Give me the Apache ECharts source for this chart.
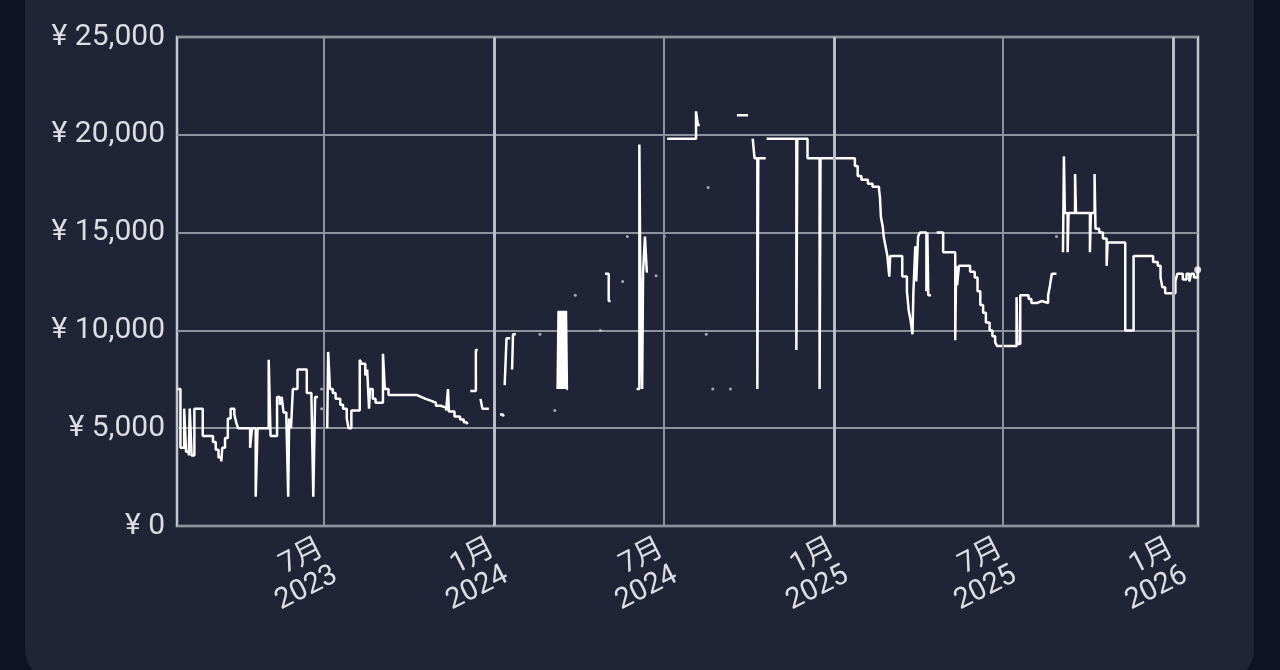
<!DOCTYPE html>
<html><head><meta charset="utf-8">
<script src="https://cdn.jsdelivr.net/npm/echarts@6/dist/echarts.min.js"></script>
<style>
html,body{margin:0;padding:0;background:#0e1223;width:1280px;height:670px;overflow:hidden}
#panel{position:absolute;left:25px;top:-40px;width:1229px;height:720px;border-radius:30px;background:#1f2536}
#chart{position:absolute;left:0;top:0;width:1280px;height:670px}
</style></head><body>
<div id="panel"></div><div id="chart"></div>
<script>
const dates = [
 '2023-01-25','2023-01-28','2023-02-01','2023-02-03','2023-02-06','2023-02-07','2023-02-09','2023-02-12',
 '2023-02-21','2023-03-04','2023-03-07','2023-03-10','2023-03-13','2023-03-14','2023-03-17','2023-03-20',
 '2023-03-23','2023-03-27','2023-03-29','2023-03-31','2023-04-13','2023-04-15','2023-04-19','2023-04-21',
 '2023-05-03','2023-05-05','2023-05-12','2023-05-15','2023-05-17','2023-05-19','2023-05-22','2023-05-24',
 '2023-05-25','2023-05-27','2023-05-29','2023-06-03','2023-06-13','2023-06-18','2023-06-20','2023-06-22',
 '2023-06-24','2023-06-25',
 '2023-07-05','2023-07-06','2023-07-08','2023-07-11','2023-07-14','2023-07-19','2023-07-22','2023-07-26',
 '2023-07-28','2023-07-31','2023-08-09','2023-08-11','2023-08-15','2023-08-17','2023-08-19','2023-08-20',
 '2023-08-23','2023-08-26','2023-09-03','2023-09-05','2023-09-09','2023-10-09','2023-10-14','2023-10-19',
 '2023-10-25','2023-10-30','2023-11-04','2023-11-10','2023-11-12','2023-11-13','2023-11-19','2023-11-25',
 '2023-11-29','2023-12-02','2023-12-03',
 '2023-12-06','2023-12-12','2023-12-13','2023-12-14','2023-12-17','2023-12-19','2023-12-25','2023-12-26',
 '2024-01-07','2024-01-10','2024-01-11','2024-01-12','2024-01-14','2024-01-17','2024-01-18','2024-01-20',
 '2024-01-21','2024-01-23','2024-01-24',
 '2024-03-09','2024-03-10','2024-03-11','2024-03-12','2024-03-13','2024-03-14','2024-03-15','2024-03-16',
 '2024-03-17','2024-03-18','2024-03-19','2024-03-20',
 '2024-04-29','2024-05-03','2024-05-04','2024-05-05',
 '2024-06-02','2024-06-05','2024-06-06','2024-06-08','2024-06-09','2024-06-11','2024-06-13','2024-06-14',
 '2024-07-05','2024-08-05','2024-08-07','2024-08-08','2024-08-09','2024-09-18','2024-09-29','2024-09-30',
 '2024-10-05','2024-10-07','2024-10-10','2024-10-11','2024-10-18','2024-10-19','2024-10-20','2024-11-21',
 '2024-11-22','2024-12-03','2024-12-16','2024-12-17','2025-01-23','2025-01-26','2025-01-30','2025-02-06',
 '2025-02-11','2025-02-18','2025-02-19','2025-02-20','2025-02-22','2025-02-23','2025-02-25','2025-02-27',
 '2025-03-01','2025-03-02','2025-03-15','2025-03-20','2025-03-22','2025-03-24','2025-03-26','2025-03-27',
 '2025-03-29','2025-03-30','2025-04-01','2025-04-03','2025-04-10','2025-04-11','2025-04-12','2025-04-14',
 '2025-04-15','2025-04-21','2025-04-28','2025-05-11','2025-05-12','2025-05-13','2025-05-15','2025-05-27',
 '2025-06-01','2025-06-04','2025-06-07','2025-06-10','2025-06-13','2025-06-17','2025-06-20','2025-06-23',
 '2025-06-25','2025-07-16','2025-07-17','2025-07-20','2025-07-29','2025-08-01','2025-08-07','2025-08-12',
 '2025-08-19','2025-08-21','2025-08-23','2025-08-27','2025-08-28',
 '2025-09-04','2025-09-05','2025-09-06','2025-09-09','2025-09-10','2025-09-17','2025-09-18','2025-10-03',
 '2025-10-04','2025-10-08','2025-10-09','2025-10-13','2025-10-17','2025-10-21','2025-10-22','2025-11-10',
 '2025-11-19','2025-12-10','2025-12-15','2025-12-18','2025-12-20','2025-12-23','2026-01-03','2026-01-05',
 '2026-01-11','2026-01-15','2026-01-18','2026-01-20','2026-01-23','2026-01-27'
];
const prices = [
 7000, 4000, 6000, 3800, 3600, 6000, 3600, 6000,
 4600, 4300, 3900, 3500, 3300, 4000, 4500, 5500,
 6000, 5700, 5300, 5000, 4000, 5000, 1500, 5000,
 8500, 4600, 6600, 6200, 6600, 5800, 5500, 1500,
 5500, 5000, 7000, 8000, 6800, 6600, 1500, 6600,
 6600, null,
 5000, 8900, 7000, 6800, 6500, 6200, 6000, 5500,
 5000, 5900, 8500, 8300, 7700, 8000, 6000, 7000,
 6500, 6300, 8800, 7000, 6700, 6600, 6500, 6400,
 6300, 6150, 6050, 5900, 7000, 5850, 5600, 5450,
 5300, 5200, null,
 6900, 9000, 9000, null, 6500, 6000, 6000, null,
 5700, 5600, null, 7200, 9600, 9600, null, 8000,
 9800, 9800, null,
 7000, 11000, 7000, 11000, 7000, 11000, 7000, 11000,
 7000, 11000, 7000, null,
 12900, 11500, 11500, null,
 7000, 19500, 13000, 7000, 13000, 14800, 13000, null,
 19800, 21200, 20500, 20500, null, 21000, 21000, null,
 19800, 18800, 7000, 18800, 18800, null, 19800, 9000,
 19800, 18800, 7000, 18800, 18400, 17900, 17700, 17500,
 17350, 17200, 16800, 15800, 15300, 14800, 14300, 13800,
 12750, 13800, 12750, 12000, 11000, 10500, 9800, 12000,
 14300, 12500, 14800, 15000, 12000, 15000, 11800, 11800,
 null, 15000, 14000, 9500, 13300, 12300, 13300, 13000,
 12700, 12000, 11300, 10900, 10400, 10000, 9700, 9400,
 9200, 11700, 9300, 11800, 11600, 11400, 11500, 11400,
 11800, 12300, 12900, 12900, null,
 14000, 18900, 16000, 14000, 16000, 18000, 16000, 14000,
 16000, 18000, 15200, 15000, 14700, 13300, 14500, 10000,
 13800, 13500, 13300, 12700, 12200, 11900, 12500, 12900,
 12600, 12900, 12500, 12900, 12700, 13100
];
// isolated single observations
const dotDates = ['2023-06-29','2023-06-29','2024-02-19','2024-03-06','2024-03-28','2024-04-24','2024-05-18','2024-05-23','2024-06-23','2024-07-02','2024-08-16','2024-08-18','2024-08-23','2024-09-11','2025-08-28'];
const dotPrices = [7000, 6000, 9800, 5900, 11800, 10000, 12500, 14800, 12800, 14800, 9800, 17300, 7000, 7000, 14800];
const tickDates = ['2023-07-01','2024-01-01','2024-07-01','2025-01-01','2025-07-01','2026-01-01'];
const labelMonths = [1, 7];
const xRange = ['2023-01-24T07:00:00','2026-01-27T08:00:00'];
const yRange = [0, 25000, 5000];

const fontFam = 'Roboto, "Noto Sans CJK JP", sans-serif';
const textColor = '#dcdee2';
const lineData = dates.map((d, i) => [d, prices[i] === null ? '-' : prices[i]]);
const dotData = dotDates.map((d, i) => [d, dotPrices[i]]);
const last = dates.length - 1;
const vLines = tickDates.map(d => {
  const jan = d.slice(5, 7) === '01';
  return {xAxis: d, lineStyle: {color: jan ? '#b9bcc4' : '#8d929c', width: jan ? 3 : 2, type: 'solid'}};
});

const chart = echarts.init(document.getElementById('chart'), null, {renderer: 'canvas'});
chart.setOption({
  backgroundColor: 'transparent',
  animation: false,
  grid: {left: 177, right: 82, top: 37, bottom: 144, show: true, borderColor: '#c3c6cd', borderWidth: 2.5, backgroundColor: 'transparent'},
  xAxis: {
    type: 'time', min: xRange[0], max: xRange[1], splitNumber: 7,
    axisLine: {show: false},
    axisTick: {show: false},
    splitLine: {show: false},
    axisLabel: {
      rotate: 27, margin: 37, fontSize: 29, lineHeight: 30, color: textColor, fontFamily: fontFam,
      padding: [0, -6, 0, 0],
      hideOverlap: false,
      formatter: function (v) {
        const d = new Date(v);
        if (d.getDate() !== 1 || labelMonths.indexOf(d.getMonth() + 1) < 0) return '';
        return (d.getMonth() + 1) + '月\n' + d.getFullYear();
      }
    }
  },
  yAxis: {
    type: 'value', min: yRange[0], max: yRange[1], interval: yRange[2],
    axisLine: {show: false}, axisTick: {show: false},
    splitLine: {show: true, lineStyle: {color: '#8d929c', width: 2}},
    axisLabel: {fontSize: 30, color: textColor, fontFamily: fontFam, margin: 12, padding: [6, 0, 0, 0],
      formatter: v => '¥ ' + v.toLocaleString('en-US')}
  },
  series: [
    {
      type: 'scatter', data: dotData, symbolSize: 3, z: 2, silent: true,
      itemStyle: {color: '#c8cbd1'},
      markLine: {silent: true, symbol: 'none', label: {show: false}, animation: false,
        emphasis: {disabled: true},
        data: vLines}
    },
    {
      type: 'line', data: lineData, step: 'end', showSymbol: false, connectNulls: false, z: 3,
      lineStyle: {color: '#ffffff', width: 2.5}, silent: true
    },
    {
      type: 'scatter', data: [[dates[last], prices[last]]], symbolSize: 7, z: 4, clip: false, silent: true,
      itemStyle: {color: '#ffffff'}
    }
  ]
});
</script>
</body></html>
